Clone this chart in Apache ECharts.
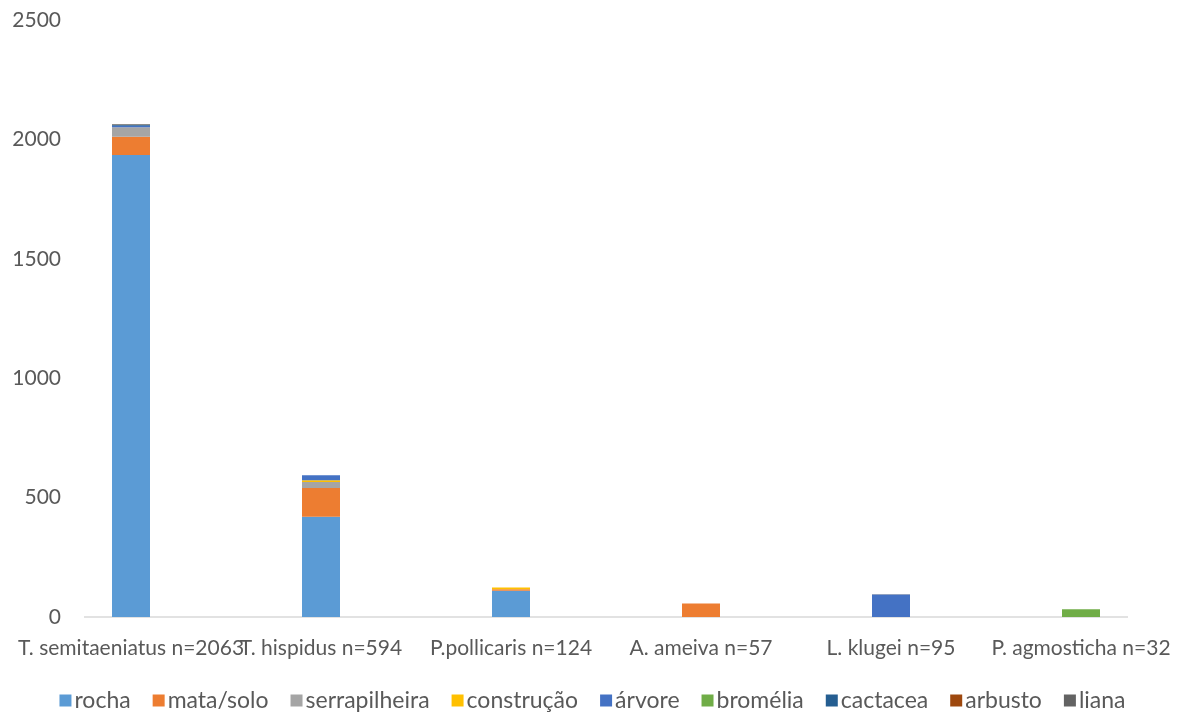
<!DOCTYPE html>
<html>
<head>
<meta charset="utf-8">
<script src="https://cdn.jsdelivr.net/npm/echarts@6/dist/echarts.min.js"></script>
<style>
  html, body { margin: 0; padding: 0; background: #fff; }
  #chart { width: 1185px; height: 713px; }
</style>
</head>
<body>
<div id="chart"></div>
<script>
// species (x categories)
const categories = ["T. semitaeniatus n=2063", "T. hispidus n=594", "P.pollicaris n=124",
  "A. ameiva n=57", "L. klugei n=95", "P. agmosticha n=32"];

// microhabitat counts, one array per stack segment
const rocha         = [1935, 420, 110, 0, 0, 0];
const mataSolo      = [76, 120, 6, 57, 0, 0];
const serrapilheira = [40, 25, 0, 0, 0, 0];
const construcao    = [0, 8, 8, 0, 0, 0];
const arvore        = [6, 21, 0, 0, 94, 0];
const bromelia      = [0, 0, 0, 0, 0, 32];
const cactacea      = [3, 0, 0, 0, 0, 0];
const arbusto       = [0, 0, 0, 0, 0, 0];
const liana         = [3, 0, 0, 0, 1, 0];

const yTicks = [0, 500, 1000, 1500, 2000, 2500];

const seriesDefs = [
  ["rocha", rocha, "#5B9BD5"],
  ["mata/solo", mataSolo, "#ED7D31"],
  ["serrapilheira", serrapilheira, "#A5A5A5"],
  ["construção", construcao, "#FFC000"],
  ["árvore", arvore, "#4472C4"],
  ["bromélia", bromelia, "#70AD47"],
  ["cactacea", cactacea, "#255E91"],
  ["arbusto", arbusto, "#9E480E"],
  ["liana", liana, "#636363"]
];

const font = "Lato, 'Open Sans', sans-serif";
const chart = echarts.init(document.getElementById("chart"));

const option = {
  animation: false,
  grid: { left: 36, right: 9, top: 20, bottom: 96 },
  legend: {
    top: 684,
    left: "center",
    icon: "rect",
    itemWidth: 12,
    itemHeight: 12,
    itemGap: 22,
    textStyle: { fontFamily: font, fontSize: 23, color: "#595959", padding: [0, 0, 0, -2] },
    data: seriesDefs.map(s => s[0])
  },
  xAxis: {
    type: "category",
    data: categories,
    axisLine: { show: false },
    axisTick: { show: false },
    axisLabel: {
      interval: 0,
      hideOverlap: false,
      margin: 21,
      fontFamily: font,
      fontSize: 21,
      color: "#595959"
    }
  },
  yAxis: {
    type: "value",
    min: yTicks[0],
    max: yTicks[yTicks.length - 1],
    interval: 500,
    offset: -33,
    axisLine: { show: false },
    axisTick: { show: false },
    splitLine: { show: false },
    axisLabel: {
      margin: 8,
      fontFamily: font,
      fontSize: 21,
      color: "#595959",
      formatter: v => String(v)
    }
  },
  graphic: [{
    type: "line",
    shape: { x1: 84, y1: 617, x2: 1128, y2: 617 },
    style: { stroke: "#D9D9D9", lineWidth: 1.5 },
    z: 0
  }],
  series: seriesDefs.map(([name, data, color]) => ({
    name: name,
    type: "bar",
    stack: "total",
    barWidth: 38,
    data: data,
    itemStyle: { color: color },
    z: 2
  }))
};

chart.setOption(option);
</script>
</body>
</html>
